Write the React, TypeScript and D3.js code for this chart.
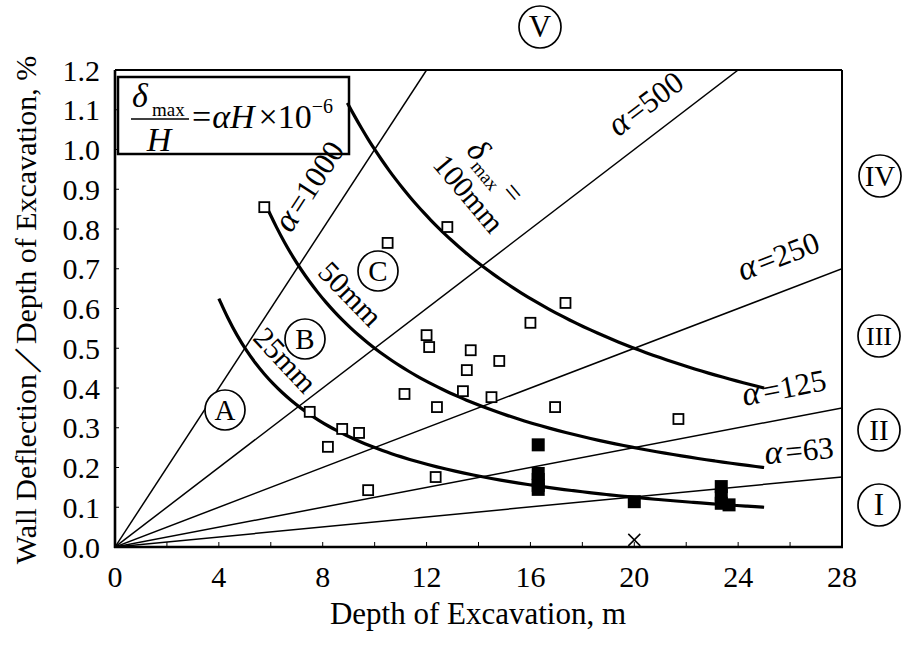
import * as d3 from 'd3';

// guide lines and curves
const alphaValues = [1000, 500, 250, 125, 63];
const deltaMm = [25, 50, 100];
const deltaStartH = [4.0, 5.9, 8.95];
const deltaEndH = [25, 25, 25];

// open squares (measured points)
const openH = [5.75, 12.8, 10.5, 17.35, 16.0, 12.0, 12.1, 13.7, 14.8, 13.55, 11.15, 13.4, 14.5, 16.95, 12.4, 7.5, 8.75, 9.4, 8.2, 21.7, 12.35, 9.75];
const openY = [0.855, 0.805, 0.765, 0.614, 0.564, 0.533, 0.503, 0.495, 0.468, 0.445, 0.385, 0.392, 0.377, 0.352, 0.352, 0.34, 0.297, 0.287, 0.252, 0.322, 0.176, 0.143];

// filled squares
const filledH = [16.3, 16.3, 16.3, 16.3, 16.3, 20.0, 23.35, 23.35, 23.35, 23.65];
const filledY = [0.257, 0.185, 0.17, 0.155, 0.145, 0.114, 0.152, 0.13, 0.11, 0.106];

// cross marker
const crossH = [20.0];
const crossY = [0.018];

const xTicks = [0, 4, 8, 12, 16, 20, 24, 28];
const yTicks = [0, 0.1, 0.2, 0.3, 0.4, 0.5, 0.6, 0.7, 0.8, 0.9, 1.0, 1.1, 1.2];

const FONT = '"Liberation Serif", "DejaVu Serif", serif';

const W = 904;
const H = 646;
const left = 115;
const right = 842;
const top = 70;
const bottom = 547;

const App = () => {
  const x = d3.scaleLinear([0, 28], [left, right]);
  const y = d3.scaleLinear([0, 1.2], [bottom, top]);
  const line = d3
    .line<[number, number]>()
    .x((d) => x(d[0]))
    .y((d) => y(d[1]));

  const alphaLines = alphaValues.map((a) => {
    const k = a * 1e-4;
    const hEnd = Math.min(28, 1.2 / k);
    return line([
      [0, 0],
      [hEnd, hEnd * k],
    ]);
  });

  const curves = deltaMm.map((mm, i) => {
    const pts = d3.range(0, 61).map((j) => {
      const h = deltaStartH[i] + ((deltaEndH[i] - deltaStartH[i]) * j) / 60;
      return [h, mm / (10 * h)] as [number, number];
    });
    return d3.line<[number, number]>().x((d) => x(d[0])).y((d) => y(d[1])).curve(d3.curveBasis)(pts);
  });

  const minorX = d3.range(2, 28, 2);

  const circleLabel = (cx: number, cy: number, t: string, key: string, r = 20, fs = 29) => (
    <g key={key}>
      <circle cx={cx} cy={cy} r={r} fill="white" stroke="black" strokeWidth={1.7} />
      <text x={cx} y={cy + fs * 0.33} textAnchor="middle" fontSize={fs} fontFamily={FONT}>
        {t}
      </text>
    </g>
  );

  const alphaLabel = (cx: number, cy: number, ang: number, num: string) => (
    <text
      key={num}
      transform={`translate(${cx},${cy}) rotate(${-ang})`}
      textAnchor="middle"
      fontSize={31}
      fontFamily={FONT}
    >
      <tspan fontStyle="italic" fontSize={34}>α</tspan>
      <tspan dx={3}>=</tspan>
      <tspan>{num}</tspan>
    </text>
  );

  return (
    <svg width={W} height={H} style={{ position: 'absolute', left: 0, top: 0, background: 'white' }}>
      <rect width={W} height={H} fill="white" />
      <defs>
        <clipPath id="plot">
          <rect x={left} y={top} width={right - left} height={bottom - top} />
        </clipPath>
      </defs>

      {/* alpha lines */}
      <g clipPath="url(#plot)">
        {alphaLines.map((d, i) => (
          <path key={i} d={d ?? ''} fill="none" stroke="black" strokeWidth={1.5} />
        ))}
      </g>

      {/* formula box */}
      <rect x={118} y={77} width={231} height={77} fill="white" stroke="black" strokeWidth={2.5} />
      <text x={132} y={107} fontSize={34} fontFamily={FONT} fontStyle="italic">
        δ
      </text>
      <text x={152} y={116} fontSize={19} fontFamily={FONT}>
        max
      </text>
      <line x1={131} x2={189} y1={119} y2={119} stroke="black" strokeWidth={1.3} />
      <text x={159} y={151} fontSize={34} fontFamily={FONT} fontStyle="italic" textAnchor="middle">
        H
      </text>
      <text x={192} y={128} fontSize={34} fontFamily={FONT}>
        <tspan>=</tspan>
        <tspan dx={1} fontStyle="italic">
          αH
        </tspan>
        <tspan dx={4}>×10</tspan>
        <tspan dy={-15} fontSize={20}>
          −6
        </tspan>
      </text>

      {/* delta curves */}
      {curves.map((d, i) => (
        <path key={i} d={d ?? ''} fill="none" stroke="black" strokeWidth={3.2} />
      ))}

      {/* frame */}
      <line x1={left} x2={right} y1={top} y2={top} stroke="black" strokeWidth={2} />
      <line x1={right} x2={right} y1={top} y2={bottom} stroke="black" strokeWidth={2} />
      <line x1={left} x2={left} y1={top} y2={bottom + 1} stroke="black" strokeWidth={2.6} />
      <line x1={left - 1} x2={right + 1} y1={bottom} y2={bottom} stroke="black" strokeWidth={2.6} />

      {/* ticks */}
      {minorX.map((t) => (
        <line key={t} x1={x(t)} x2={x(t)} y1={bottom} y2={bottom - 5} stroke="black" strokeWidth={1} />
      ))}
      {yTicks.map((t) => (
        <line key={t} x1={left} x2={left + 4} y1={y(t)} y2={y(t)} stroke="black" strokeWidth={1} />
      ))}

      {/* tick labels */}
      {xTicks.map((t) => (
        <text key={t} x={x(t)} y={587} textAnchor="middle" fontSize={30} fontFamily={FONT}>
          {t}
        </text>
      ))}
      {yTicks.map((t) => (
        <text key={t} x={100} y={y(t) + 10.5} textAnchor="end" fontSize={30} fontFamily={FONT}>
          {t.toFixed(1)}
        </text>
      ))}

      {/* axis titles */}
      <text x={478} y={624} textAnchor="middle" fontSize={31} fontFamily={FONT}>
        Depth of Excavation, m
      </text>
      <text
        transform={`translate(36,310) rotate(-90)`}
        textAnchor="middle"
        fontSize={30}
        fontFamily={FONT}
      >
        Wall Deflection／Depth of Excavation, %
      </text>

      {/* open squares */}
      {openH.map((h, i) => (
        <rect key={i} x={x(h) - 5} y={y(openY[i]) - 5} width={10} height={10} fill="white" stroke="black" strokeWidth={1.8} />
      ))}
      {/* filled squares */}
      {filledH.map((h, i) => (
        <rect key={i} x={x(h) - 6.5} y={y(filledY[i]) - 6.5} width={13} height={13} fill="black" />
      ))}
      {crossH.map((h, i) => (
        <g key={i} stroke="black" strokeWidth={1.5}>
          <line x1={x(h) - 6} x2={x(h) + 6} y1={y(crossY[i]) - 6} y2={y(crossY[i]) + 6} />
          <line x1={x(h) - 6} x2={x(h) + 6} y1={y(crossY[i]) + 6} y2={y(crossY[i]) - 6} />
        </g>
      ))}

      {/* alpha labels */}
      {alphaLabel(318, 192, 57, '1000')}
      {alphaLabel(652, 112, 37, '500')}
      {alphaLabel(782, 266, 21, '250')}
      {alphaLabel(786, 398, 11, '125')}
      {alphaLabel(800, 461, 5.5, '63')}

      {/* delta labels */}
      <text transform="translate(278,367) rotate(47)" textAnchor="middle" fontSize={30} fontFamily={FONT}>
        25mm
      </text>
      <text transform="translate(343,301) rotate(46)" textAnchor="middle" fontSize={30} fontFamily={FONT}>
        50mm
      </text>
      <text transform="translate(461,200) rotate(50)" textAnchor="middle" fontSize={30} fontFamily={FONT}>
        100mm
      </text>
      <text transform="translate(488,178) rotate(50)" textAnchor="middle" fontSize={30} fontFamily={FONT}>
        <tspan fontStyle="italic" fontSize={33}>δ</tspan>
        <tspan fontSize={19} dy={7}>max</tspan>
        <tspan dy={-7} dx={6}>=</tspan>
      </text>

      {/* zone labels */}
      {circleLabel(225, 410, 'A', 'A')}
      {circleLabel(305, 339, 'B', 'B')}
      {circleLabel(378, 271, 'C', 'C')}
      {circleLabel(540, 27, 'V', 'V', 21, 31)}
      {circleLabel(880, 176, 'IV', 'IV', 21, 29)}
      {circleLabel(879, 336, 'III', 'III', 21, 26)}
      {circleLabel(879, 430, 'II', 'II', 21, 29)}
      {circleLabel(879, 505, 'I', 'I', 21, 31)}
    </svg>
  );
};

export default App;
